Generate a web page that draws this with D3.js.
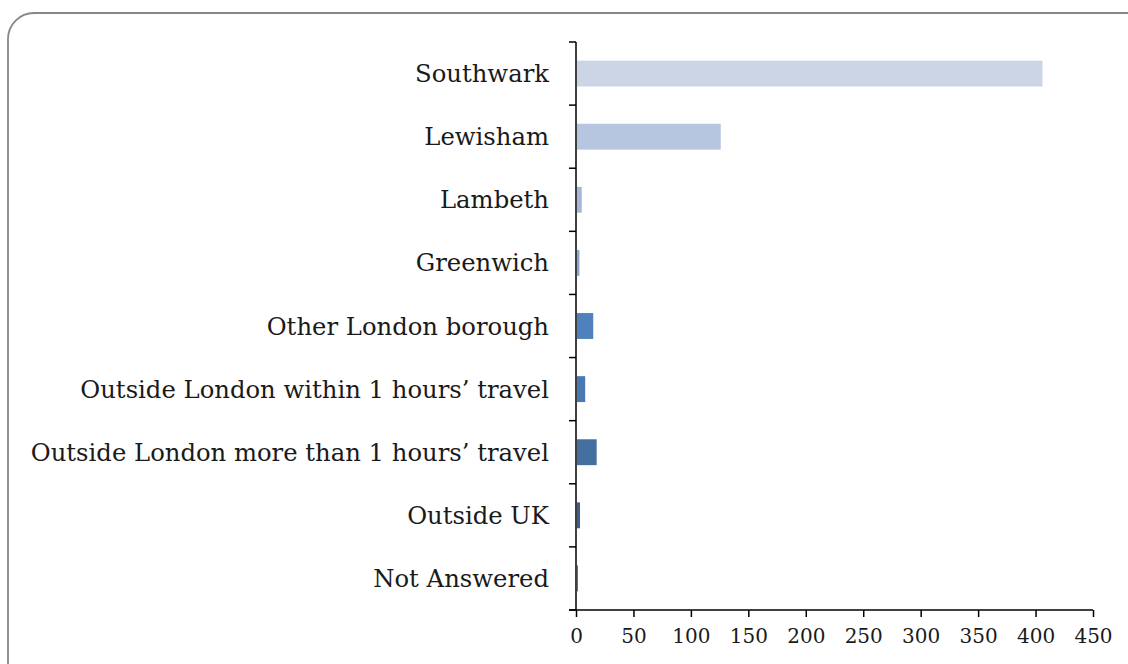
<!DOCTYPE html>
<html><head><meta charset="utf-8">
<script src="https://cdn.jsdelivr.net/npm/d3@7"></script>
<style>body{margin:0;background:#fff;}svg{display:block;}</style>
</head><body>
<svg id="chart" width="1128" height="664"></svg>
<script>
const categories = ["Southwark","Lewisham","Lambeth","Greenwich","Other London borough","Outside London within 1 hours\u2019 travel","Outside London more than 1 hours\u2019 travel","Outside UK","Not Answered"];
const values = [406, 126, 5, 3, 15, 8, 18, 3.5, 1.5];
const colors = ["#cbd5e6","#b7c6e0","#a4b7db","#8ca6d4","#4f81bd","#4a78b5","#44709f","#3b5e8f","#24395e"];
const xTicks = [0,50,100,150,200,250,300,350,400,450];

(function(){
const svg = d3.select("#chart");
svg.append("rect").attr("x",8).attr("y",13).attr("width",1145).attr("height",680)
  .attr("rx",26).attr("fill","#fff").attr("stroke","#878787").attr("stroke-width",1.8);

const L=576, R=1093, T=42, B=610;
const FONT = "'DejaVu Serif', 'Liberation Serif', serif";
const x = d3.scaleLinear().domain([0,450]).range([L,R]);
const y = d3.scaleBand().domain(categories).range([T,B]).paddingInner(0.59).paddingOuter(0.295);
const yb = d3.scaleBand().domain(categories).range([T,B]);

svg.selectAll("rect.bar").data(categories).enter().append("rect")
  .attr("class","bar")
  .attr("x",x(0)+1).attr("y",d=>y(d))
  .attr("width",(d,i)=>Math.max(0,x(values[i])-x(0)-1))
  .attr("height",y.bandwidth())
  .attr("fill",(d,i)=>colors[i]);

const g = svg.append("g");
g.append("line").attr("x1",L).attr("x2",L).attr("y1",T).attr("y2",B)
  .attr("stroke","#000").attr("stroke-width",1.5);
const bounds = categories.map(d=>yb(d)).concat([B]);
g.selectAll("line.yt").data(bounds).enter().append("line")
  .attr("x1",L-7).attr("x2",L).attr("y1",d=>d).attr("y2",d=>d)
  .attr("stroke","#000").attr("stroke-width",1.5);
g.selectAll("text.yl").data(categories).enter().append("text")
  .attr("x",549).attr("y",d=>yb(d)+yb.bandwidth()/2)
  .attr("text-anchor","end").attr("dominant-baseline","central")
  .attr("font-family",FONT).attr("font-size",24.3)
  .attr("fill","#1a1a1a").text(d=>d);

const xa = svg.append("g").attr("transform",`translate(0,${B})`)
  .call(d3.axisBottom(x).tickValues(xTicks).tickSize(7).tickSizeOuter(0).tickPadding(12));
xa.select(".domain").attr("stroke","#000").attr("stroke-width",1.5).attr("d",`M${L-7},0H${R}`);
xa.selectAll(".tick line").attr("stroke","#000").attr("stroke-width",1.5);
xa.selectAll(".tick text").attr("font-family",FONT)
  .attr("font-size",20).attr("fill","#1a1a1a");
})();
</script>
</body></html>
